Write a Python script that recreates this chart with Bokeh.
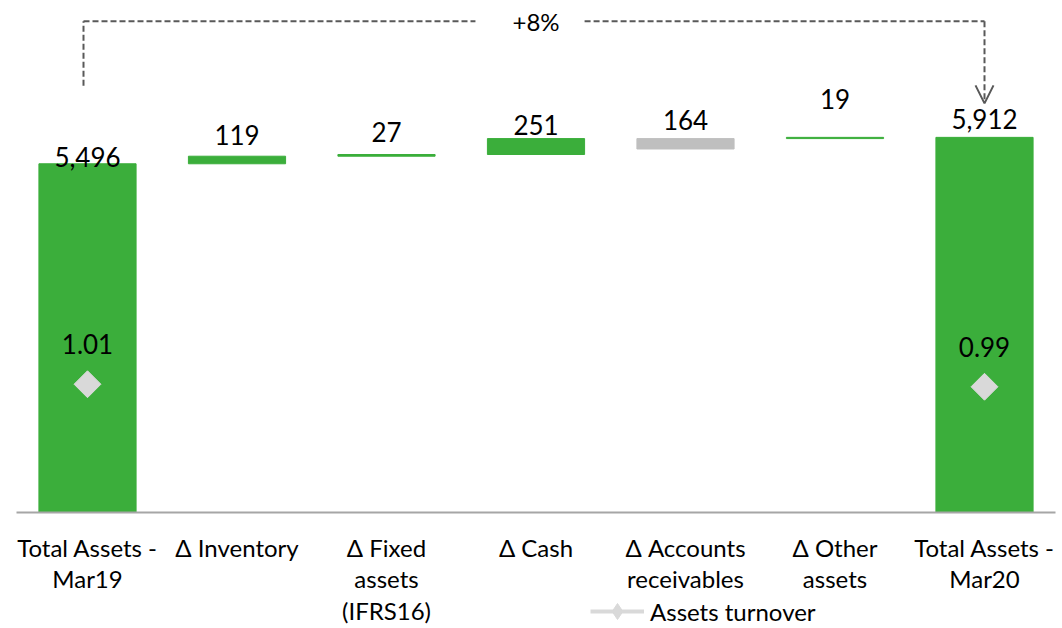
import math
from bokeh.plotting import figure
from bokeh.models import Range1d, ColumnDataSource, Legend, LegendItem, Arrow, OpenHead
from bokeh.core.properties import value
from bokeh.embed import file_html
from bokeh.resources import INLINE

# ---------------- data ----------------
categories = ["Total Assets -\nMar19", "Δ Inventory", "Δ Fixed\nassets\n(IFRS16)", "Δ Cash",
              "Δ Accounts\nreceivables", "Δ Other\nassets", "Total Assets -\nMar20"]
values = [5496, 119, 27, 251, -164, 19, 5912]
bar_bottoms = [0, 5496, 5615, 5642, 5729, 5893, 0]
value_labels = ["5,496", "119", "27", "251", "164", "19", "5,912"]
turnover_x = [0, 6]
turnover = [1.01, 0.99]
turnover_labels = ["1.01", "0.99"]
growth_label = "+8%"

# ---------------- styles ----------------
GREEN = "#3BAE3B"
GREY = "#BFBFBF"
DIAMOND = "#D9D9D9"
DASH = "#595959"
AXIS = "#A6A6A6"
FONT = "Lato"
label_gap_px = [-4, 10, 12, 3, 8, 27, 7]   # value-label baseline above bar top
BASELINE_FIX = 11                           # renderer's alphabetic-baseline correction

W, H = 1062, 628
X_SCALE = 149.5          # px per category
X0_PX = 87               # px of first category
ZERO_PX = 512            # px of y = 0
PX = 15.76               # data units per px

x_start = -X0_PX / X_SCALE
x_end = x_start + W / X_SCALE
y_end = ZERO_PX * PX
y_start = -(H - ZERO_PX) * PX

xs = list(range(len(categories)))
tops = [b + abs(v) for b, v in zip(bar_bottoms, values)]
colors = [GREEN if v >= 0 else GREY for v in values]

p = figure(width=W, height=H, x_range=Range1d(x_start, x_end), y_range=Range1d(y_start, y_end),
           output_backend="svg", toolbar_location=None, x_axis_location=None, y_axis_location=None,
           min_border=0)
p.outline_line_color = None
p.xgrid.visible = False
p.ygrid.visible = False
p.extra_y_ranges = {"to": Range1d(y_start / PX / 127.0, y_end / PX / 127.0)}

src = ColumnDataSource(dict(x=xs, bottom=bar_bottoms, top=tops, color=colors, label=value_labels,
                            yoff=[-(g + BASELINE_FIX) for g in label_gap_px]))
p.vbar(x="x", bottom="bottom", top="top", width=0.65, color="color", source=src)
p.text(x="x", y="top", text="label", y_offset="yoff", source=src, text_align="center",
       text_baseline="alphabetic", text_font=value(FONT), text_font_size="26px", text_color="#000000")

# x axis line and category labels
p.segment(x0=[x_start + 16 / X_SCALE], y0=[0], x1=[x_start + 1055 / X_SCALE], y1=[0],
          line_color=AXIS, line_width=2)
p.text(x=xs, y=[0] * len(xs), text=categories, y_offset=20, text_align="center",
       text_baseline="top", text_font=value(FONT), text_font_size="24px", text_line_height=1.1,
       text_color="#000000")

# turnover series (no connecting line because of gaps)
line_r = p.line(x=[turnover_x[0], float("nan"), turnover_x[1]],
                y=[turnover[0], float("nan"), turnover[1]], y_range_name="to",
                line_color=DIAMOND, line_width=4)
p.scatter(x=turnover_x, y=turnover, y_range_name="to", marker="square", angle=math.pi / 4,
          size=19, color=DIAMOND)
# legend-only marker (no visible points)
leg_marker = p.scatter(x=[float("nan")], y=[float("nan")], y_range_name="to", marker="diamond",
                       size=19, color=DIAMOND)
p.text(x=turnover_x, y=turnover, text=turnover_labels, y_range_name="to", y_offset=-40,
       text_align="center", text_baseline="middle", text_font=value(FONT), text_font_size="26px",
       text_color="#000000")

# growth bracket
y_br = max(tops) + (137 - 21) * PX
y_left_start = tops[0] + (163 - 85) * PX
y_tip = tops[-1] + (137 - 103) * PX
gap_l, gap_r = 3 - 0.405, 3 + 0.325
xl = -4 / X_SCALE
p.segment(x0=[xl, xl, gap_r, 6], y0=[y_left_start, y_br, y_br, y_br],
          x1=[xl, gap_l, 6, 6], y1=[y_br, y_br, y_br, y_tip + 2 * PX],
          line_color=DASH, line_width=2, line_dash="6 3")
p.add_layout(Arrow(x_start=6, y_start=y_tip + 6 * PX, x_end=6, y_end=y_tip, line_alpha=0,
                   end=OpenHead(size=18, line_color=DASH, line_width=2)))
p.text(x=[3], y=[y_br], text=[growth_label], text_align="center", text_baseline="middle",
       text_font=value(FONT), text_font_size="24px", text_color="#000000")

legend = Legend(items=[LegendItem(label="Assets turnover", renderers=[line_r, leg_marker])],
                location=(590, -3), orientation="horizontal", glyph_width=54, glyph_height=40,
                label_text_font=FONT, label_text_font_size="24px", label_text_color="#000000",
                padding=0, margin=0, border_line_color=None, background_fill_alpha=0,
                label_standoff=6)
p.add_layout(legend)

open("out.html", "w").write(file_html(p, INLINE))
